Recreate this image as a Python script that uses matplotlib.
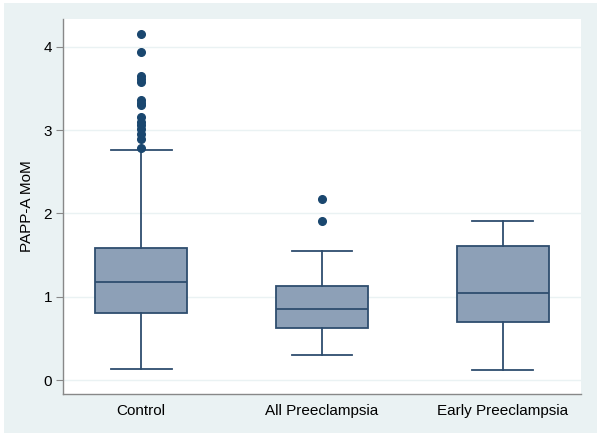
import numpy as np
import matplotlib.pyplot as plt
from matplotlib.patches import Rectangle

plt.rcParams['font.family'] = ['Liberation Sans', 'DejaVu Sans']

# Datos (PAPP-A MoM)
grupos = ['Control', 'All Preeclampsia', 'Early Preeclampsia']
q1 = [0.81, 0.62, 0.70]
mediana = [1.18, 0.855, 1.05]
q3 = [1.59, 1.13, 1.61]
bigote_inf = [0.13, 0.30, 0.12]
bigote_sup = [2.76, 1.545, 1.91]
atipicos = [
    [4.15, 3.94, 3.65, 3.61, 3.58, 3.36, 3.33, 3.30, 3.16, 3.10, 3.06, 3.02, 2.96, 2.90, 2.79],
    [2.18, 1.91],
    [],
]
yticks = [0, 1, 2, 3, 4]

color_caja = '#8DA0B7'
color_linea = '#2E4D6E'
color_punto = '#1A476F'
fondo = '#EAF2F3'

stats = []
for i in range(len(grupos)):
    stats.append(dict(label=grupos[i], q1=q1[i], med=mediana[i], q3=q3[i],
                      whislo=bigote_inf[i], whishi=bigote_sup[i], fliers=atipicos[i]))

fig = plt.figure(figsize=(6.01, 4.37), dpi=100)
fig.patch.set_facecolor('white')
fig.add_artist(Rectangle((4 / 601, 4 / 437), 593 / 601, 430 / 437,
                         transform=fig.transFigure, facecolor=fondo,
                         edgecolor='none', zorder=-5))

ax = fig.add_axes([63 / 601, 43 / 437, 518 / 601, 375 / 437])
ax.set_zorder(1)
ax.set_facecolor('white')

ax.bxp(stats, positions=[1, 2, 3], widths=0.503, patch_artist=True,
       showcaps=True,
       boxprops=dict(facecolor=color_caja, edgecolor=color_linea, linewidth=1.3),
       medianprops=dict(color=color_linea, linewidth=1.3),
       whiskerprops=dict(color=color_linea, linewidth=1.3),
       capprops=dict(color=color_linea, linewidth=1.3),
       capwidths=0.337,
       flierprops=dict(marker='o', markerfacecolor=color_punto,
                       markeredgecolor=color_punto, markersize=5.5))

ax.set_xlim(0.569, 3.431)
ax.set_ylim(-0.168, 4.336)
ax.set_yticks(yticks)
ax.set_yticklabels([str(t) for t in yticks], fontsize=11)
ax.yaxis.grid(True, color=fondo, linewidth=1.0)
ax.set_axisbelow(True)
ax.tick_params(axis='x', length=0, labelsize=11, pad=7)
ax.tick_params(axis='y', length=5, color='#888888', width=0.8, pad=3)
ax.set_ylabel('PAPP-A MoM', fontsize=11, labelpad=7)

for lado in ['top', 'right']:
    ax.spines[lado].set_visible(False)
for lado in ['left', 'bottom']:
    ax.spines[lado].set_color('#888888')
    ax.spines[lado].set_linewidth(1.0)

plt.savefig('out.png', dpi=100)
